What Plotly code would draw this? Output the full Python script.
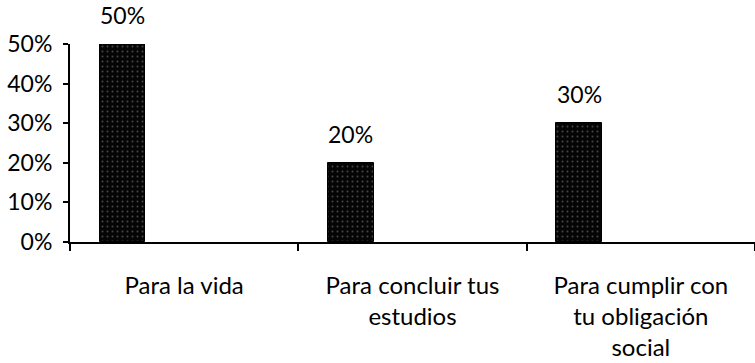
import plotly.graph_objects as go

# Survey answers and their shares
categories = ["Para la vida", "Para concluir tus<br>estudios", "Para cumplir con<br>tu obligación<br>social"]
shares = [0.50, 0.20, 0.30]
y_ticks = [0.0, 0.1, 0.2, 0.3, 0.4, 0.5]
y_tick_labels = ["0%", "10%", "20%", "30%", "40%", "50%"]

FONT = "Lato"
W, H = 755, 363
MARGIN = dict(l=70, r=0, t=44, b=121)
BAR_WIDTH = 0.2
BAR_OFFSET = -0.37

fig = go.Figure(
    go.Bar(
        x=categories,
        y=shares,
        width=BAR_WIDTH,
        offset=BAR_OFFSET,
        marker=dict(
            color="#111111",
            line=dict(color="#000000", width=1),
            pattern=dict(shape=".", fgcolor="#8a8a8a", bgcolor="#050505", size=5, solidity=0.12),
        ),
        cliponaxis=False,
    )
)

# value labels above each bar, centred on the bar
px_per_cat = (W - MARGIN["l"] - MARGIN["r"]) / len(categories)
bar_center_shift = (BAR_OFFSET + BAR_WIDTH / 2) * px_per_cat
for cat, val in zip(categories, shares):
    fig.add_annotation(
        x=cat, y=val, text=f"{val:.0%}", showarrow=False,
        xanchor="center", yanchor="bottom", xshift=bar_center_shift, yshift=13,
        font=dict(family=FONT, size=23, color="#000000"),
    )

fig.update_layout(
    width=W,
    height=H,
    margin=MARGIN,
    paper_bgcolor="white",
    plot_bgcolor="white",
    showlegend=False,
    bargap=0,
    font=dict(family=FONT, size=23, color="#000000"),
)

fig.update_xaxes(
    showline=True,
    linecolor="#000000",
    linewidth=2,
    ticks="outside",
    tickson="boundaries",
    ticklen=7,
    tickwidth=2,
    tickcolor="#000000",
    showgrid=False,
    range=[-0.5, 2.5],
    tickfont=dict(family=FONT, size=24),
    ticklabelstandoff=21,
)

fig.update_yaxes(
    range=[0, 0.5],
    tickvals=y_ticks,
    ticktext=y_tick_labels,
    showline=True,
    linecolor="#000000",
    linewidth=2,
    ticks="outside",
    ticklen=5,
    tickwidth=2,
    tickcolor="#000000",
    showgrid=False,
    zeroline=False,
    tickfont=dict(family=FONT, size=23),
    ticklabelstandoff=6,
)

fig.write_html("out.html")
